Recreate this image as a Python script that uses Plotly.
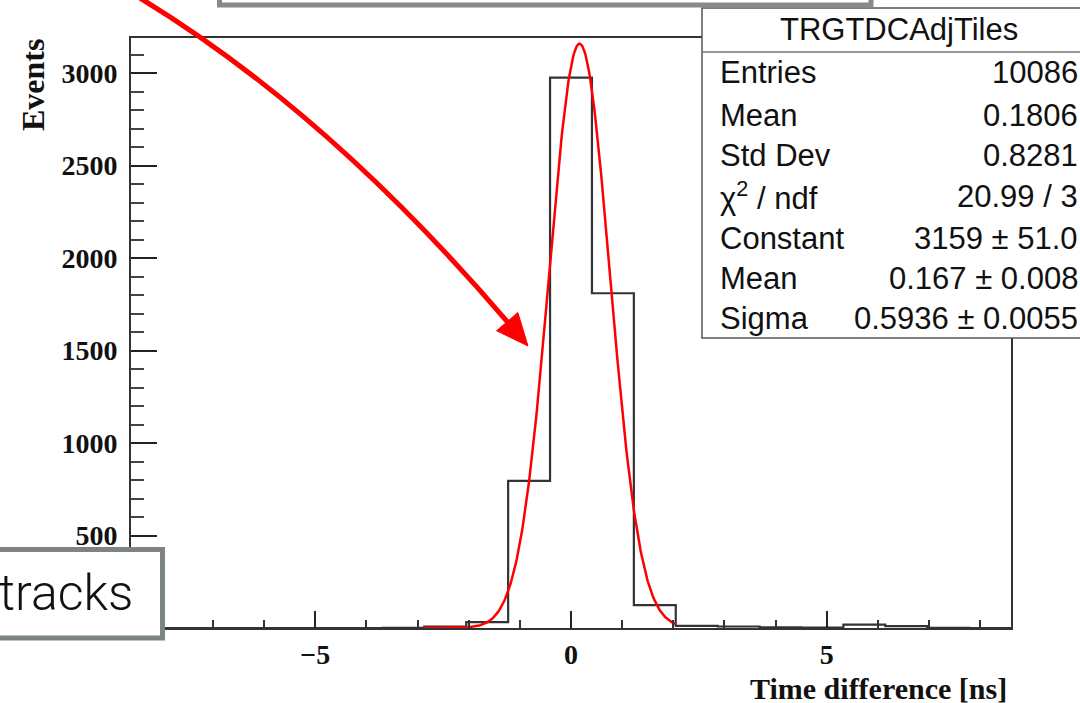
import numpy as np
import plotly.graph_objects as go

# histogram TRGTDCAdjTiles, 21 bins on [-8.6, 8.6]
x_min = -8.6
x_max = 8.6
n_bins = 21
counts = [0, 0, 0, 0, 0, 0, 1, 8, 32, 795, 2976, 1810, 124, 12, 8, 4, 2, 18, 10, 1, 0]

# gaussian fit
fit_const = 3159
fit_mean = 0.167
fit_sigma = 0.5936
fit_lo = -2.867
fit_hi = 2.048

stat_labels = ["Entries", "Mean", "Std Dev", "χ<sup>2</sup> / ndf", "Constant", "Mean", "Sigma"]
stat_values = ["10086", "0.1806", "0.8281", "20.99 / 3", "3159 ± 51.0", "0.167 ± 0.008", "0.5936 ± 0.0055"]

W, H = 1080, 703
L, R, T, B = 131, 1011, 38, 628


def px(x):
    return (x - L) / (R - L)


def py(y):
    return (B - y) / (B - T)


edges = np.linspace(x_min, x_max, n_bins + 1)
step_x = list(edges)
step_y = list(counts) + [counts[-1]]

fx = np.linspace(fit_lo, fit_hi, 300)
fy = fit_const * np.exp(-0.5 * ((fx - fit_mean) / fit_sigma) ** 2)

fig = go.Figure()
fig.add_trace(go.Scatter(x=step_x, y=step_y, mode='lines', line=dict(shape='hv', color='#333', width=2.2),
                         showlegend=False, hoverinfo='skip'))
fig.add_trace(go.Scatter(x=fx, y=fy, mode='lines', line=dict(color='#ff0000', width=2.5),
                         showlegend=False, hoverinfo='skip'))

serif = 'Liberation Serif'
sans = 'Liberation Sans'

fig.update_xaxes(range=[x_min, x_max], dtick=5, tick0=0, ticks='inside', ticklen=17, tickwidth=2,
                 tickcolor='#222', showline=True, linecolor='#333', linewidth=2, mirror=True,
                 showgrid=False, zeroline=False,
                 tickfont=dict(family=serif, size=28, color='#111', weight='bold'),
                 minor=dict(dtick=1, ticks='inside', ticklen=8, tickwidth=2, tickcolor='#333'))
fig.update_yaxes(range=[0, 3190], dtick=500, ticks='inside', ticklen=26, tickwidth=2,
                 tickcolor='#222', showline=True, linecolor='#333', linewidth=2, mirror=True,
                 showgrid=False, zeroline=False, ticklabelstandoff=6,
                 tickfont=dict(family=serif, size=28, color='#111', weight='bold'),
                 minor=dict(dtick=100, ticks='inside', ticklen=13, tickwidth=2, tickcolor='#444'))

shapes = []
annotations = []

# stats box
shapes.append(dict(type='rect', xref='paper', yref='paper', x0=px(702), x1=px(1096), y0=py(338), y1=py(8),
                   line=dict(color='#555', width=1.5), fillcolor='white', layer='above'))
shapes.append(dict(type='line', xref='paper', yref='paper', x0=px(702), x1=px(1100), y0=py(52), y1=py(52),
                   line=dict(color='#777', width=1.5), layer='above'))
annotations.append(dict(xref='paper', yref='paper', x=px(899), y=py(30), text='TRGTDCAdjTiles',
                        showarrow=False, xanchor='center', yanchor='middle',
                        font=dict(family=sans, size=31, color='#111')))
row_y = [73, 115, 156, 196, 238, 278, 318]
for lab, val, yy in zip(stat_labels, stat_values, row_y):
    annotations.append(dict(xref='paper', yref='paper', x=px(718), y=py(yy), text=lab, showarrow=False,
                            xanchor='left', yanchor='middle', font=dict(family=sans, size=31, color='#111')))
    annotations.append(dict(xref='paper', yref='paper', x=px(1080), y=py(yy), text=val, showarrow=False,
                            xanchor='right', yanchor='middle', font=dict(family=sans, size=31, color='#111')))

# gray box at the top (cut off)
shapes.append(dict(type='rect', xref='paper', yref='paper', x0=px(219.5), x1=px(871), y0=py(5), y1=py(-60),
                   line=dict(color='#878a8d', width=5), fillcolor='white', layer='above'))

# "tracks" box bottom left
shapes.append(dict(type='rect', xref='paper', yref='paper', x0=px(-20), x1=px(162.5), y0=py(638), y1=py(549.5),
                   line=dict(color='#7e8386', width=5), fillcolor='white', layer='above'))
annotations.append(dict(xref='paper', yref='paper', x=px(-3), y=py(593), text='tracks', showarrow=False,
                        xanchor='left', yanchor='middle',
                        font=dict(family='Roboto', size=50, color='#111', weight=300)))

# curved red arrow
p0 = np.array([140.0, -2.0])
c = np.array([329.0, 113.0])
tip = np.array([528.0, 346.0])
d = tip - c
d = d / np.linalg.norm(d)
n = np.array([-d[1], d[0]])
base = tip - 32 * d
p2 = base + 2 * d
shapes.append(dict(type='path', xref='paper', yref='paper',
                   path='M %f,%f Q %f,%f %f,%f' % (px(p0[0]), py(p0[1]), px(c[0]), py(c[1]), px(p2[0]), py(p2[1])),
                   line=dict(color='#ff0000', width=5), layer='above'))
c1 = base + 14 * n
c2 = base - 14 * n
shapes.append(dict(type='path', xref='paper', yref='paper',
                   path='M %f,%f L %f,%f L %f,%f Z' % (px(tip[0]), py(tip[1]), px(c1[0]), py(c1[1]), px(c2[0]), py(c2[1])),
                   line=dict(color='#ff0000', width=1), fillcolor='#ff0000', layer='above'))

# axis titles
annotations.append(dict(xref='paper', yref='paper', x=px(1009), y=py(688), text='<b>Time difference [ns]</b>',
                        showarrow=False, xanchor='right', yanchor='middle',
                        font=dict(family=serif, size=30, color='#111')))
annotations.append(dict(xref='paper', yref='paper', x=px(33), y=py(37), text='<b>Events</b>', textangle=-90,
                        showarrow=False, xanchor='center', yanchor='top',
                        font=dict(family=serif, size=32, color='#111')))

fig.update_layout(width=W, height=H, autosize=False, plot_bgcolor='white', paper_bgcolor='white',
                  margin=dict(l=L, r=W - R, t=T, b=H - B), shapes=shapes, annotations=annotations,
                  showlegend=False)

fig.write_html("out.html", config={'displayModeBar': False},
               post_script="document.body.style.margin = '0';")
